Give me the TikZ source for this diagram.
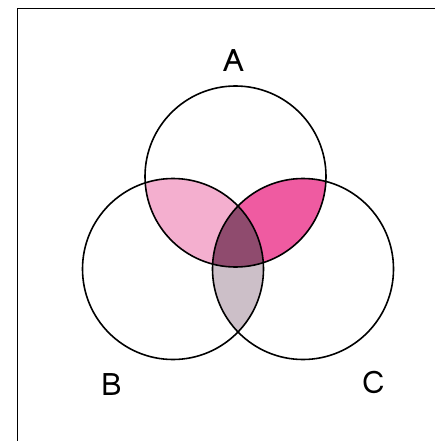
\documentclass[tikz,border=0pt]{standalone}
\usepackage{fontspec}
\setmainfont{Loma}
\usepackage{xcolor}
\definecolor{pinkAB}{HTML}{F4AFCF}
\definecolor{pinkAC}{HTML}{EF5BA1}
\definecolor{plumABC}{HTML}{8F4B6E}
\definecolor{greyBC}{HTML}{CCBFC8}
\tikzset{
  ring/.style={draw,circle,line width=1.6pt,minimum size=181pt,inner sep=0pt},
  lbl/.style={font=\fontsize{31}{31}\selectfont,inner sep=0pt},
  frm/.style={line width=1.9pt}
}
\newcommand{\disc}[1]{(#1) circle (90.5pt)}

\begin{document}
\begin{tikzpicture}[x=1pt,y=-1pt]
\useasboundingbox (0,0) rectangle (434,441);
\coordinate (cA) at (235.5,176.5); \coordinate (cB) at (173,269); \coordinate (cC) at (303,269);
% two-set lenses first, triple lens on top
\begin{scope} \clip \disc{cB}; \fill[greyBC] \disc{cC}; \end{scope}
\begin{scope} \clip \disc{cA}; \fill[pinkAB] \disc{cB}; \end{scope}
\begin{scope} \clip \disc{cA}; \fill[pinkAC] \disc{cC}; \end{scope}
\begin{scope} \clip \disc{cA}; \clip \disc{cB}; \fill[plumABC] \disc{cC}; \end{scope}
\node[ring] (A) at (cA) {}; \node[ring] (B) at (cB) {}; \node[ring] (C) at (cC) {};
\node[lbl] (labA) at (234,61) {A};
\node[lbl] (labB) at (112,385) {B};
\node[lbl] (labC) at (374,382.5) {C};
\draw[frm] (17.5,450) -- (17.5,8.5) -- (450,8.5);
\end{tikzpicture}
\end{document}
